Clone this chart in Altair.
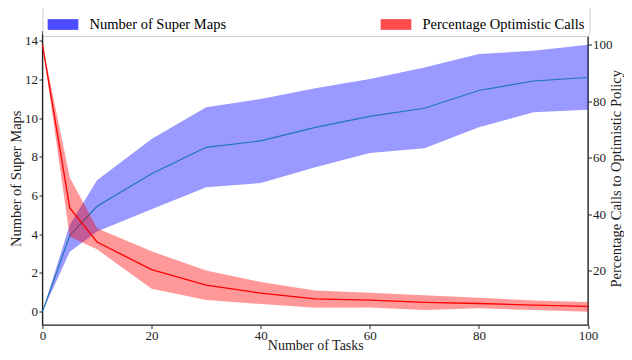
import altair as alt
import pandas as pd

# ---- data ----
tasks = [0, 5, 10, 20, 30, 40, 50, 60, 70, 80, 90, 100]

maps_mean = [0.0, 3.93, 5.45, 7.13, 8.50, 8.83, 9.53, 10.10, 10.52, 11.44, 11.93, 12.11]
maps_lo = [0.0, 3.10, 4.15, 5.30, 6.44, 6.65, 7.47, 8.20, 8.45, 9.54, 10.31, 10.44]
maps_hi = [0.0, 4.50, 6.80, 8.93, 10.57, 11.00, 11.56, 12.03, 12.63, 13.33, 13.49, 13.80]

pct_mean = [100.0, 42.2, 30.1, 20.3, 14.8, 12.0, 9.9, 9.5, 8.7, 8.3, 7.7, 7.3]
pct_lo = [100.0, 32.0, 27.5, 13.5, 9.5, 8.1, 6.8, 6.9, 6.0, 6.6, 6.0, 5.4]
pct_hi = [100.0, 53.0, 35.0, 26.8, 20.0, 15.9, 12.9, 12.1, 11.2, 10.3, 9.4, 8.8]

series_names = ["Number of Super Maps", "Percentage Optimistic Calls"]
x_ticks = [0, 20, 40, 60, 80, 100]
left_ticks = [0, 2, 4, 6, 8, 10, 12, 14]
right_ticks = [20, 40, 60, 80, 100]

maps_df = pd.DataFrame({"tasks": tasks, "mean": maps_mean, "lo": maps_lo,
                        "hi": maps_hi, "series": series_names[0]})
pct_df = pd.DataFrame({"tasks": tasks, "mean": pct_mean, "lo": pct_lo,
                       "hi": pct_hi, "series": series_names[1]})

FONT = "Liberation Serif"
INK = "#222222"

W, H = 545.5, 293.5
PAD_L, PAD_T = 34.5, 23.5
PAD_R = 616 - PAD_L - W
PAD_B = 344 - PAD_T - H

color = alt.Color(
    "series:N",
    scale=alt.Scale(domain=series_names, range=["#0000ff", "#ff0000"]),
    legend=alt.Legend(
        title=None, orient="none", legendX=0, legendY=-27.5,
        direction="horizontal", columns=2, columnPadding=154,
        padding=5, strokeColor="#cccccc", fillColor="white", cornerRadius=3,
        symbolType="M-1,-0.35H1V0.35H-1Z", symbolSize=942, symbolStrokeWidth=0,
        symbolOpacity=0.7, labelOffset=11, labelLimit=400,
        labelFont=FONT, labelFontSize=14.5, labelColor="black",
    ),
)

axis_style = dict(labelFont=FONT, labelFontSize=13, labelColor=INK,
                  titleFont=FONT, titleFontWeight="normal",
                  titleColor=INK, titleBaseline="alphabetic")

x_enc = alt.X(
    "tasks:Q",
    scale=alt.Scale(domain=[0, 100], nice=False, zero=False),
    axis=alt.Axis(values=x_ticks, title="Number of Tasks", titleY=24,
                  titleFontSize=14, labelPadding=1, **axis_style),
)

left_scale = alt.Scale(domain=[-0.69, 14.49], nice=False, zero=False)
left_axis = alt.Axis(orient="left", values=left_ticks, title="Number of Super Maps",
                     titleAngle=270, titleX=-22, titleFontSize=14.5,
                     labelPadding=1.5, **axis_style)
right_scale = alt.Scale(domain=[0.67, 104.73], nice=False, zero=False)
right_axis = alt.Axis(orient="right", values=right_ticks,
                      title="Percentage Calls to Optimistic Policy",
                      titleAngle=270, titleX=32.5, titleFontSize=14.5,
                      labelPadding=1, **axis_style)

maps_band = alt.Chart(maps_df).mark_area(opacity=0.4).encode(
    x=x_enc, y=alt.Y("lo:Q", scale=left_scale, axis=left_axis), y2="hi:Q", color=color
)
maps_line = alt.Chart(maps_df).mark_line(color="#1f77b4", strokeWidth=1.2).encode(
    x=x_enc, y=alt.Y("mean:Q", scale=left_scale, axis=left_axis)
)
pct_band = alt.Chart(pct_df).mark_area(opacity=0.4).encode(
    x=x_enc, y=alt.Y("lo:Q", scale=right_scale, axis=right_axis), y2="hi:Q", color=color
)
pct_line = alt.Chart(pct_df).mark_line(color="#ff0000", strokeWidth=1.3).encode(
    x=x_enc, y=alt.Y("mean:Q", scale=right_scale, axis=right_axis)
)

left = alt.layer(maps_band, maps_line)
right = alt.layer(pct_band, pct_line)

chart = (
    alt.layer(left, right)
    .resolve_scale(y="independent")
    .properties(
        width=W, height=H,
        padding={"left": PAD_L, "top": PAD_T, "right": PAD_R, "bottom": PAD_B},
        autosize=alt.AutoSizeParams(type="none"),
        background="white",
    )
    .configure_view(stroke=INK, strokeWidth=1.4)
    .configure_axis(
        domain=False, grid=False, ticks=True, tickColor=INK, tickSize=3.5,
        tickWidth=1, labelFont=FONT, labelFontSize=13, labelColor=INK,
        titleFont=FONT, titleFontWeight="normal",
        titleColor=INK, labelFlush=False,
    )
)

chart.save("out.html", embed_options={"renderer": "svg", "actions": False})
